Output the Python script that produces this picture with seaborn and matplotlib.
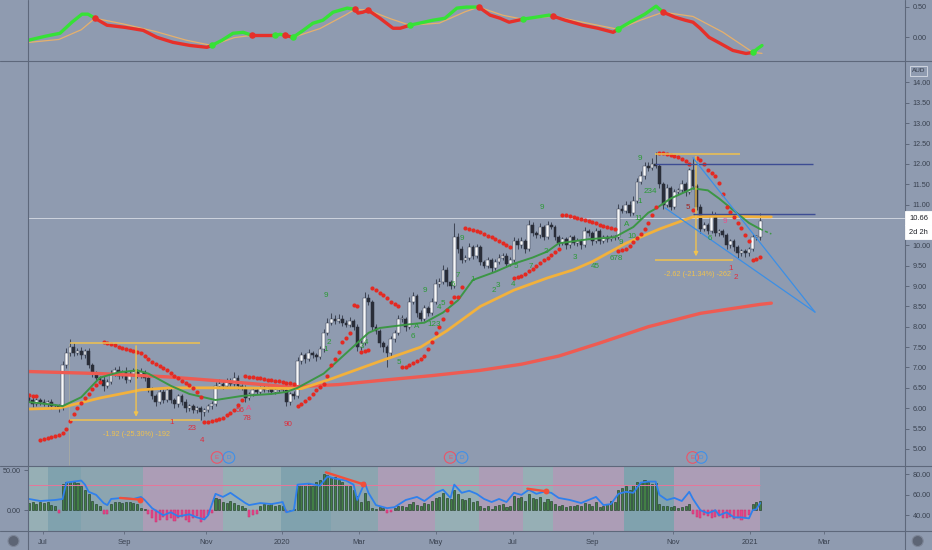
import numpy as np
import pandas as pd
import matplotlib
matplotlib.use("Agg")
import matplotlib.pyplot as plt
import seaborn as sns
from matplotlib.lines import Line2D
from matplotlib.patches import Rectangle, Ellipse

# ---------------- DATA ----------------
first_open = 6.25
closes = [
    6.20, 6.10, 6.20, 6.15, 6.10, 6.15, 6.05, 6.05, 6.00, 7.05,
    7.35, 7.50, 7.35, 7.40, 7.30, 7.40, 7.05, 6.85, 6.75, 6.70,
    6.55, 6.65, 6.85, 6.95, 6.80, 6.90, 6.70, 6.85, 6.90, 6.80,
    6.90, 6.75, 6.45, 6.30, 6.15, 6.40, 6.20, 6.45, 6.20, 6.10,
    6.30, 6.15, 6.00, 6.05, 5.95, 6.00, 5.90, 5.95, 6.05, 6.10,
    6.55, 6.60, 6.55, 6.65, 6.60, 6.75, 6.55, 6.50, 6.25, 6.35,
    6.45, 6.40, 6.50, 6.45, 6.50, 6.40, 6.45, 6.50, 6.45, 6.15,
    6.35, 6.30, 7.15, 7.30, 7.20, 7.35, 7.30, 7.25, 7.45, 7.85,
    8.10, 8.20, 8.15, 8.20, 8.10, 8.05, 8.15, 8.00, 7.50, 7.60,
    8.70, 8.60, 8.00, 7.90, 7.60, 7.50, 7.35, 7.70, 7.85, 8.20,
    8.20, 8.00, 8.60, 8.75, 8.35, 8.20, 8.45, 8.35, 8.60, 9.05,
    9.10, 9.40, 9.10, 9.00, 10.20, 9.90, 9.65, 9.70, 9.95, 9.75,
    9.95, 9.60, 9.50, 9.65, 9.45, 9.60, 9.70, 9.75, 9.55, 9.65,
    10.10, 10.00, 10.10, 9.90, 10.50, 10.30, 10.25, 10.45, 10.20, 10.50,
    10.45, 10.20, 10.05, 10.15, 10.00, 10.20, 10.05, 10.10, 10.00, 10.35,
    10.30, 10.10, 10.35, 10.10, 10.20, 10.15, 10.20, 10.20, 10.90, 10.85,
    11.00, 10.80, 11.10, 11.55, 11.70, 11.95, 11.90, 12.00, 11.95, 11.50,
    11.00, 11.40, 10.95, 11.30, 11.35, 11.50, 11.30, 11.85, 11.45, 10.95,
    10.40, 10.50, 10.35, 10.75, 10.30, 10.35, 10.25, 10.00, 10.10, 9.95,
    9.80, 9.85, 9.80, 9.90, 10.20, 10.20, 10.60,
]
wick_hi = [
    .08, .10, .05, .06, .08, .05, .07, .06, .05, .10,
    .12, .20, .10, .08, .10, .06, .08, .05, .06, .05,
    .08, .06, .10, .06, .08, .05, .10, .06, .08, .06,
    .08, .05, .06, .08, .05, .06, .08, .05, .06, .05,
    .06, .05, .08, .05, .06, .05, .06, .05, .06, .08,
    .10, .12, .08, .10, .08, .15, .06, .05, .06, .05,
    .08, .06, .05, .06, .05, .06, .05, .06, .05, .06,
    .05, .06, .10, .08, .06, .10, .06, .05, .08, .10,
    .12, .15, .10, .12, .08, .06, .10, .05, .06, .08,
    .15, .10, .06, .08, .05, .06, .05, .08, .06, .10,
    .08, .05, .12, .10, .06, .05, .08, .05, .10, .12,
    .10, .12, .08, .06, .35, .10, .08, .06, .10, .06,
    .08, .06, .05, .06, .05, .06, .08, .06, .05, .06,
    .10, .08, .10, .06, .12, .08, .06, .10, .06, .10,
    .08, .06, .05, .06, .05, .06, .05, .08, .05, .10,
    .06, .05, .08, .05, .06, .05, .06, .05, .12, .10,
    .10, .08, .10, .10, .12, .10, .10, .15, .30, .06,
    .06, .10, .06, .08, .06, .10, .06, .06, .30, .06,
    .06, .08, .06, .10, .06, .05, .06, .05, .06, .05,
    .05, .06, .05, .06, .08, .06, .20,
]
wick_lo = [
    .06, .08, .05, .06, .05, .06, .08, .05, .10, .05,
    .06, .08, .06, .05, .08, .06, .06, .08, .06, .08,
    .12, .06, .05, .06, .08, .06, .08, .05, .06, .05,
    .06, .08, .06, .08, .10, .05, .08, .06, .08, .10,
    .06, .08, .10, .06, .08, .06, .20, .08, .05, .06,
    .05, .06, .08, .05, .06, .05, .08, .06, .10, .06,
    .05, .06, .05, .06, .05, .06, .05, .06, .05, .10,
    .06, .08, .05, .06, .08, .05, .06, .08, .05, .06,
    .06, .05, .08, .06, .08, .06, .05, .08, .10, .08,
    .05, .06, .10, .08, .10, .12, .35, .06, .08, .06,
    .08, .10, .06, .05, .10, .06, .05, .08, .06, .05,
    .08, .06, .10, .08, .05, .10, .08, .06, .06, .08,
    .06, .08, .06, .05, .10, .06, .05, .06, .08, .06,
    .05, .08, .06, .10, .05, .06, .08, .06, .08, .05,
    .06, .08, .06, .05, .08, .06, .05, .06, .08, .05,
    .06, .08, .05, .06, .05, .06, .05, .06, .05, .06,
    .06, .08, .05, .06, .05, .06, .08, .05, .06, .08,
    .10, .06, .08, .06, .05, .06, .08, .05, .06, .08,
    .10, .06, .08, .05, .08, .06, .05, .08, .06, .08,
    .10, .06, .08, .06, .05, .06, .08,
]
sar = (
    [6.32, 6.30, 6.29]
    + [5.23, 5.25, 5.27, 5.29, 5.31, 5.35, 5.40, 5.50, 5.68, 5.85, 6.00, 6.12, 6.24, 6.36, 6.47, 6.56, 6.65]
    + [7.62, 7.60, 7.57, 7.54, 7.50, 7.48, 7.46, 7.43, 7.40, 7.38, 7.35, 7.29, 7.21, 7.13, 7.08, 7.03,
       6.98, 6.93, 6.86, 6.80, 6.73, 6.68, 6.62, 6.56, 6.50, 6.39, 6.27]
    + [5.65, 5.67, 5.69, 5.71, 5.74, 5.77, 5.83, 5.89, 5.95, 6.07, 6.20]
    + [6.78, 6.77, 6.76, 6.75, 6.74, 6.72, 6.70, 6.69, 6.68, 6.67, 6.65, 6.63, 6.61, 6.60]
    + [6.05, 6.10, 6.17, 6.25, 6.36, 6.44, 6.52, 6.60, 6.80, 7.05, 7.20, 7.37, 7.62, 7.73, 7.84]
    + [8.53, 8.52]
    + [7.38, 7.40, 7.42]
    + [8.95, 8.90, 8.84, 8.77, 8.70, 8.62, 8.55, 8.50]
    + [7.00, 7.02, 7.06, 7.10, 7.15, 7.20, 7.27, 7.45, 7.62, 7.84, 8.00, 8.20, 8.40, 8.60, 8.72, 8.74, 8.97]
    + [10.42, 10.40, 10.38, 10.35, 10.32, 10.28, 10.24, 10.20, 10.15, 10.10, 10.05, 10.00, 9.95]
    + [9.20, 9.22, 9.25, 9.30, 9.36, 9.43, 9.50, 9.57, 9.63, 9.70, 9.77, 9.84, 9.90]
    + [10.75, 10.74, 10.72, 10.70, 10.68, 10.65, 10.62, 10.60, 10.57, 10.54, 10.51, 10.48, 10.45, 10.42, 10.39]
    + [9.85, 9.88, 9.92, 9.98, 10.08, 10.18, 10.28, 10.40, 10.55, 10.75, 10.95]
    + [12.27, 12.26, 12.24, 12.22, 12.20, 12.17, 12.12, 12.06, 12.00]
    + [10.87]
    + [12.15, 12.10, 12.00, 11.85, 11.78, 11.70, 11.53, 11.25, 10.95, 10.82, 10.70, 10.55, 10.42, 10.25]
    + [10.10]
    + [9.64, 9.66, 9.71]
)

# moving averages (bar index, price)
green_bar = [0, 7, 9, 14, 19, 24, 29, 32, 38, 43, 50, 57, 65, 69, 72, 79, 85, 91, 94, 101,
             106, 111, 115, 119, 125, 130, 135, 139, 142, 150, 157, 162, 166, 168, 172, 178, 182, 185, 189, 193, 196]
green_val = [6.15, 6.08, 6.05, 6.27, 6.75, 6.88, 6.93, 6.85, 6.55, 6.35, 6.2, 6.3, 6.35, 6.4, 6.5, 6.85, 7.35, 7.85, 7.97, 8.05,
             8.1, 8.35, 8.65, 9.15, 9.35, 9.55, 9.7, 9.85, 10.05, 10.15, 10.2, 10.45, 10.8, 10.9, 11.15, 11.4, 11.35, 11.15, 10.85, 10.55, 10.4]
green_ext_bar = [196, 199]
green_ext_val = [10.4, 10.28]
yellow_bar = [0, 8, 19, 30, 38, 55, 73, 81, 94, 105, 112, 121, 130, 139, 146, 151, 160, 169, 178, 187, 196, 199]
yellow_val = [5.98, 6.0, 6.25, 6.45, 6.5, 6.5, 6.48, 6.72, 7.15, 7.5, 7.9, 8.5, 8.9, 9.2, 9.4, 9.6, 10.05, 10.4, 10.7, 10.72, 10.7, 10.7]
red_bar = [0, 19, 37, 54, 70, 83, 94, 108, 121, 132, 142, 153, 166, 180, 196, 199]
red_val = [6.9, 6.85, 6.77, 6.65, 6.52, 6.58, 6.68, 6.8, 6.93, 7.08, 7.28, 7.6, 8.0, 8.33, 8.55, 8.58]

# TD sequential style labels (bar, price, text, colour key)
td_labels = [
    (79.6, 8.78, '9', 'g'), (79.6, 7.45, '1', 'g'), (80.4, 7.62, '2', 'g'),
    (89.3, 7.52, '3', 'g'), (90.3, 7.62, '4', 'g'), (99.2, 7.13, '5', 'g'),
    (103.0, 7.77, '6', 'g'), (104.0, 8.01, 'A', 'g'), (108.6, 8.06, '123', 'g'),
    (110.0, 8.48, '4', 'g'), (111.0, 8.58, '5', 'g'), (106.0, 8.88, '9', 'g'),
    (113.7, 9.05, '6', 'g'), (115.0, 9.25, '7', 'g'), (119.0, 9.15, '1', 'g'),
    (116.0, 10.18, '9', 'g'), (124.7, 8.90, '2', 'g'), (125.7, 9.02, '3', 'g'),
    (129.8, 9.05, '4', 'g'), (130.6, 9.49, '5', 'g'), (134.6, 9.49, '7', 'g'),
    (138.6, 9.86, '2', 'g'), (137.5, 10.92, '9', 'g'), (146.4, 9.69, '3', 'g'),
    (151.7, 9.49, '45', 'g'), (157.4, 9.67, '678', 'g'), (158.6, 10.08, '9', 'g'),
    (161.6, 10.22, '10', 'g'), (160.2, 10.50, 'A', 'g'), (163.4, 10.66, '11', 'g'),
    (163.8, 11.07, '1', 'g'), (166.5, 11.32, '234', 'g'), (163.8, 12.13, '9', 'g'),
    (182.6, 10.18, '6', 'g'), (176.7, 10.92, '5', 'dr'), (186.6, 10.58, '9', 'pk'),
    (188.0, 9.44, '1', 'r'), (189.5, 9.22, '2', 'r'),
    (38.3, 5.65, '1', 'r'), (43.6, 5.49, '23', 'r'), (46.3, 5.21, '4', 'r'),
    (56.6, 5.95, '56', 'r'), (58.8, 6.00, 'A', 'pk'), (58.4, 5.74, '78', 'r'), (69.5, 5.60, '90', 'r'),
]

# measure tools
fib_left = dict(x0=11.0, x1=45.8, xm=28.7, top=7.60, bot=5.70, tx=28.7, ty=5.35, text='-1.92 (-25.30%) -192')
fib_right = dict(x0=167.8, x1=190.6, x1b=188.7, xm=178.8, top=12.25, bot=9.64, tx=179.2, ty=9.28, text='-2.62 (-21.34%) -262')
navy_lines = [(12.00, 167.8, 210.2), (10.77, 178.0, 210.7)]
trend_lines = [((178.0, 12.15), (210.7, 8.36)), ((170.5, 10.92), (210.7, 8.36))]
last_price = 10.66
events = [(50.4, 'E'), (53.6, 'D'), (112.9, 'E'), (116.1, 'D'), (177.9, 'E'), (180.2, 'D')]

# top oscillator
osc_bar = [-0.3, 4.3, 8.3, 11.5, 14.2, 15.8, 17.7, 20.9, 25.7, 30.6, 34.3, 38.6, 43.2, 47.7, 49.0, 51.7, 54.7,
           57.4, 59.8, 62.5, 66.0, 67.3, 68.6, 70.8, 73.5, 76.1, 78.8, 81.5, 85.3, 87.4, 88.2, 89.5, 90.9,
           94.1, 97.6, 99.5, 102.1, 108.3, 111.5, 114.7, 117.2, 120.6, 123.6, 126.3, 128.7, 132.4, 135.9,
           139.4, 140.5, 143.7, 148.5, 152.5, 156.6, 157.9, 161.1, 165.1, 168.1, 170.0, 173.2, 175.9, 178.0,
           179.9, 182.3, 185.3, 188.7, 192.2, 194.1, 195.4, 196.5]
osc_val = [-0.055, 0.012, 0.062, 0.245, 0.378, 0.378, 0.31, 0.195, 0.16, 0.11, -0.005, -0.088, -0.14, -0.17,
           -0.14, -0.055, 0.062, 0.078, 0.028, 0.028, 0.028, 0.045, 0.028, -0.005, 0.11, 0.228, 0.278, 0.41,
           0.478, 0.46, 0.395, 0.41, 0.445, 0.31, 0.145, 0.145, 0.195, 0.278, 0.31, 0.478, 0.495, 0.495,
           0.362, 0.31, 0.245, 0.295, 0.328, 0.362, 0.345, 0.278, 0.195, 0.145, 0.078, 0.128, 0.245, 0.378,
           0.51, 0.41, 0.328, 0.278, 0.245, 0.145, -0.005, -0.105, -0.222, -0.272, -0.255, -0.188, -0.14]
sig_bar = [-0.3, 8, 14, 17.7, 25, 34, 42, 49, 55, 59.8, 66, 68.6, 70.8, 78, 85, 87.4, 90.9, 97, 102.1, 110,
           117, 120.6, 127, 132.4, 140.5, 148, 157.9, 164, 170, 178, 186, 194.1, 196.5]
sig_val = [-0.09, -0.04, 0.12, 0.31, 0.22, 0.09, -0.05, -0.14, -0.01, 0.028, 0.028, 0.028, -0.005, 0.14, 0.37,
           0.46, 0.445, 0.3, 0.195, 0.23, 0.42, 0.495, 0.36, 0.295, 0.345, 0.25, 0.128, 0.28, 0.41, 0.34,
           0.08, -0.255, -0.27]
crosses = [(17.7, 0.31, 'r'), (49.0, -0.14, 'g'), (59.8, 0.028, 'r'), (66.0, 0.028, 'g'), (68.6, 0.028, 'r'),
           (70.8, -0.005, 'g'), (87.4, 0.46, 'r'), (90.9, 0.445, 'r'), (102.1, 0.195, 'g'), (120.6, 0.495, 'r'),
           (132.4, 0.295, 'g'), (140.5, 0.345, 'r'), (157.9, 0.128, 'g'), (170.0, 0.41, 'r'), (194.1, -0.255, 'g')]

# bottom panel
hist = (
    [9, 10, 8, 10, 9, 11, 7, 5] + [-3] + [33, 35, 36, 35, 34, 30] + [25, 20, 12, 8, 6] + [-5, -4]
    + [8, 10, 10, 9, 11, 10, 9, 8] + [3, 2]
    + [-5, -10, -15, -12, -8, -12, -10, -13, -9, -8, -12, -15, -10, -7, -14, -10, -6, -3]
    + [15, 14, 10, 9, 12, 9, 7, 5, 3] + [-8, -6, -5] + [6, 8, 7, 8, 6, 7, 5] + [-2, 1]
    + [2, 30, 33, 32, 34, 30, 35, 38, 45, 44, 40, 42, 38, 35, 32, 30] + [25, 18, 10, 22, 12]
    + [3, 2, 4, 3, -3, -2]
    + [3, 5, 6, 4, 8, 10, 7, 6, 9, 8, 12, 15, 17, 22, 16, 14, 25, 20, 14, 13, 15, 11, 12, 5, 3, 6, 2, 5, 7, 8, 4, 6]
    + [18, 15, 17, 12, 20, 16, 14, 17]
    + [10, 14, 12, 8, 5, 7, 4, 6, 5, 7, 5, 9, 8, 5, 10, 4, 6, 8]
    + [12, 10, 25, 28, 30, 26, 32, 35, 36, 38, 36]
    + [33, 34, 8, 5, 6, 4, 5, 3, 4, 6, 8]
    + [-5, -8, -10, -6, -7, -9, -8, -7, -10, -9, -8, -11, -10, -12, -9, -6]
    + [8, 10, 12]
)
blue_bar = [0, 3, 7, 9, 10, 12, 14, 15, 16, 18, 20, 21, 22, 25, 28, 30, 31, 33, 36, 38,
            40, 43, 45, 47, 48, 50, 52, 54, 56, 58, 59, 62, 65, 68, 69, 71, 72, 75, 78, 80,
            82, 85, 87, 88, 90, 91, 93, 96, 98, 101, 104, 106, 109, 111, 113, 114, 116, 118, 120, 122,
            124, 126, 128, 130, 132, 134, 136, 138, 140, 142, 145, 148, 150, 152, 154, 156, 158, 160, 162, 164,
            166, 168, 169, 171, 173, 175, 177, 178, 180, 182, 184, 185, 187, 189, 191, 193, 194, 195, 196]
blue_val = [56, 54, 55, 56, 72, 73, 74, 70, 63, 60, 52, 50, 56, 57, 56, 58, 55, 47, 40, 43,
            39, 41, 38, 36, 40, 61, 58, 62, 57, 52, 50, 52, 51, 53, 43, 45, 70, 71, 69, 78,
            76, 74, 70, 55, 72, 62, 50, 47, 48, 55, 58, 54, 62, 65, 57, 70, 62, 64, 61, 56,
            53, 56, 53, 62, 60, 65, 61, 63, 62, 57, 55, 52, 55, 58, 50, 51, 61, 63, 62, 72,
            73, 73, 60, 55, 57, 54, 63, 56, 45, 42, 45, 40, 43, 38, 38, 37, 45, 46, 52]
divergences = [((24.4, 57.0), (29.8, 55.3)), ((79.6, 82.0), (89.5, 70.5)), ((133.6, 66.0), (138.6, 63.5))]
bands = [(0, 5.6, 'g'), (5.6, 14.5, 't'), (14.5, 31, 'gt'), (31, 52.5, 'p'), (52.5, 68, 'g'),
         (68, 81.5, 't'), (81.5, 94, 'gt'), (94, 109.4, 'p'), (109.4, 121, 'g'), (121, 133, 'p'),
         (133, 141, 'g'), (141, 160, 'p'), (160, 173.5, 't'), (173.5, 196.5, 'p')]

month_bars = [3.67, 25.55, 47.37, 67.9, 88.47, 109.1, 129.7, 151.1, 172.7, 193.3, 213.2]
month_labels = ['Jul', 'Sep', 'Nov', '2020', 'Mar', 'May', 'Jul', 'Sep', 'Nov', '2021', 'Mar']
main_ticks = [5.0, 5.5, 6.0, 6.5, 7.0, 7.5, 8.0, 8.5, 9.0, 9.5, 10.0, 11.0, 11.5, 12.0, 12.5, 13.0, 13.5, 14.0]

# ---------------- STYLE ----------------
sns.set_theme(style="white")
plt.rcParams['font.family'] = ['Liberation Sans', 'DejaVu Sans']

BG = '#8f9bb0'
BORDER = '#5e687b'
TXT = '#39414f'
W, H = 932, 550
fig = plt.figure(figsize=(W / 100, H / 100), dpi=100)
fig.patch.set_facecolor(BG)


def add_px_axes(x0, y0, x1, y1):
    ax = fig.add_axes([x0 / W, 1 - y1 / H, (x1 - x0) / W, (y1 - y0) / H])
    ax.set_facecolor(BG)
    for s in ax.spines.values():
        s.set_visible(False)
    return ax


XL, XR = 27.7, 904.5
ax_top = add_px_axes(XL, 0, XR, 60.5)
ax_main = add_px_axes(XL, 60.5, XR, 466)
ax_bot = add_px_axes(XL, 466, XR, 531)
XMIN, XMAX = -0.35, 234.7
for ax in (ax_top, ax_main, ax_bot):
    ax.set_xlim(XMIN, XMAX)

# ---------------- MAIN PANEL ----------------
ax_main.set_ylim(4.58, 14.54)
bars = np.arange(len(closes))
c = np.array(closes)
o = np.array([first_open] + closes[:-1])
top_b = np.maximum(o, c)
bot_b = np.minimum(o, c)
hi = top_b + np.array(wick_hi)
lo = bot_b - np.array(wick_lo)
up = c >= o
body = np.maximum(top_b - bot_b, 0.025)

ax_main.axhline(last_price, color='#cdd3de', lw=0.7, zorder=1.2)
ax_main.vlines(bars, lo, hi, color='#404757', lw=0.75, zorder=2)
ax_main.bar(bars[up], body[up], bottom=bot_b[up], width=0.74, color='#f7f8fa',
            edgecolor='#3a4050', linewidth=0.35, zorder=2.5)
ax_main.bar(bars[~up], body[~up], bottom=bot_b[~up], width=0.74, color='#292d38',
            edgecolor='#292d38', linewidth=0.35, zorder=2.5)

sns.lineplot(x=red_bar, y=red_val, ax=ax_main, color='#ee5b52', lw=2.4, zorder=3)
sns.lineplot(x=yellow_bar, y=yellow_val, ax=ax_main, color='#f2b13c', lw=2.0, zorder=3.1)
sns.lineplot(x=green_bar, y=green_val, ax=ax_main, color='#3c9645', lw=1.4, zorder=3.2)
ax_main.plot(green_ext_bar, green_ext_val, color='#3c9645', lw=1.1, ls=(0, (2, 1.5)), zorder=3.2)

sns.scatterplot(x=bars, y=sar, ax=ax_main, color='#e42a22', s=9, linewidth=0, zorder=4, legend=False)

tdc = {'g': '#2b9a35', 'r': '#e02c3c', 'dr': '#a1231f', 'pk': '#e8508a'}
for bx, py, t, k in td_labels:
    ax_main.text(bx, py, t, color=tdc[k], fontsize=5.8, ha='center', va='center', zorder=5)

# measure tools
FIBC = '#f0c24e'
for f in (fib_left, fib_right):
    ax_main.hlines(f['top'], f['x0'], f['x1'], color=FIBC, lw=1.1, zorder=4.5)
    ax_main.hlines(f['bot'], f['x0'], f.get('x1b', f['x1']), color=FIBC, lw=1.1, zorder=4.5)
    ax_main.annotate('', xy=(f['xm'], f['bot'] + 0.02), xytext=(f['xm'], f['top']),
                     arrowprops=dict(arrowstyle='-|>', color=FIBC, lw=1.0, mutation_scale=6), zorder=4.5)
    ax_main.text(f['tx'], f['ty'], f['text'], color=FIBC, fontsize=5.2, ha='center', va='center', zorder=5)
ax_main.vlines(fib_left['x0'] - 0.3, 4.6, fib_left['top'], color='#d9c98a', lw=0.6, alpha=0.35, zorder=1.5)

for yv, x0, x1 in navy_lines:
    ax_main.hlines(yv, x0, x1, color='#3d4c93', lw=1.0, zorder=4.5)
for (xa, ya), (xb, yb) in trend_lines:
    ax_main.plot([xa, xb], [ya, yb], color='#3b8fe6', lw=0.9, zorder=4.6)

ev_col = {'E': '#ec5468', 'D': '#3e90ea'}
for bx, t in events:
    ax_main.scatter([bx], [4.79], s=70, facecolors='none', edgecolors=ev_col[t], linewidths=0.8, zorder=5)
    ax_main.text(bx, 4.79, t, color=ev_col[t], fontsize=4.5, ha='center', va='center', zorder=5)

ax_main.yaxis.tick_right()
ax_main.set_yticks(main_ticks)
ax_main.set_yticklabels([f'{v:.2f}' for v in main_ticks])
ax_main.tick_params(axis='y', which='both', right=True, left=False, length=3, width=0.7, color=BORDER,
                    labelsize=5.2, labelcolor=TXT, pad=3)
ax_main.tick_params(axis='x', bottom=False, labelbottom=False)
ax_main.set_xlabel('')
ax_main.set_ylabel('')

# ---------------- TOP PANEL ----------------
ax_top.set_ylim(-0.388, 0.612)
sns.lineplot(x=sig_bar, y=sig_val, ax=ax_top, color='#e6b06c', lw=0.9, zorder=2)
osc_b = np.array(osc_bar)
osc_v = np.array(osc_val)
bounds = [osc_bar[0]] + [cb for cb, _, _ in crosses] + [osc_bar[-1]]
seg_cols = ['g'] + [cc for _, _, cc in crosses]
OSC = {'g': '#36e236', 'r': '#e6302a'}
for k in range(len(bounds) - 1):
    m = (osc_b >= bounds[k] - 1e-9) & (osc_b <= bounds[k + 1] + 1e-9)
    sns.lineplot(x=osc_b[m], y=osc_v[m], ax=ax_top, color=OSC[seg_cols[k]], lw=2.4, zorder=3)
for cb, cv, cc in crosses:
    ax_top.scatter([cb], [cv], s=22, color=OSC[cc], zorder=4, linewidths=0)
ax_top.yaxis.tick_right()
ax_top.set_yticks([0.0, 0.5])
ax_top.set_yticklabels(['0.00', '0.50'])
ax_top.tick_params(axis='y', right=True, left=False, length=3, width=0.7, color=BORDER,
                   labelsize=5.2, labelcolor=TXT, pad=3)
ax_top.tick_params(axis='x', bottom=False, labelbottom=False)
ax_top.set_xlabel('')
ax_top.set_ylabel('')

# ---------------- BOTTOM PANEL ----------------
band_c = {'g': ('#a6dcc2', 0.32), 't': ('#5fb3aa', 0.30), 'gt': ('#86c0b2', 0.28), 'p': ('#f2a2c4', 0.30)}
for b0, b1, k in bands:
    col, al = band_c[k]
    ax_bot.axvspan(b0 - 0.5, b1 - 0.5, color=col, alpha=al, lw=0, zorder=0.5)
ax_bot.set_ylim(-25.6, 55.4)
h = np.array(hist, dtype=float)
hb = np.arange(len(h))
pos = h >= 0
ax_bot.bar(hb[pos], h[pos], width=0.55, color='#427f45', edgecolor='#1d3622', linewidth=0.4, zorder=2)
ax_bot.bar(hb[~pos], h[~pos], width=0.55, color='#e3468a', edgecolor='#c9306c', linewidth=0.35, zorder=2)
ax_bot.set_yticks([0, 50])
ax_bot.set_yticklabels(['0.00', '50.00'])
ax_bot.tick_params(axis='y', left=True, right=False, length=3, width=0.7, color=BORDER,
                   labelsize=5.2, labelcolor=TXT, pad=2)
ax_bot.set_xticks(month_bars)
ax_bot.set_xticklabels(month_labels)
ax_bot.tick_params(axis='x', bottom=True, length=2, width=0.6, color=BORDER, labelsize=5.4,
                   labelcolor=TXT, pad=4)
ax_bot.set_xlabel('')
ax_bot.set_ylabel('')

ax_b2 = ax_bot.twinx()
for s in ax_b2.spines.values():
    s.set_visible(False)
ax_b2.set_ylim(24.7, 88.2)
ax_b2.hlines(70, 0, 196, color='#e7769a', lw=0.7, zorder=2)
sns.lineplot(x=blue_bar, y=blue_val, ax=ax_b2, color='#2f80ec', lw=1.3, zorder=3)
for (xa, ya), (xb, yb) in divergences:
    ax_b2.plot([xa, xb], [ya, yb], color='#f24f3a', lw=1.7, zorder=4)
    ax_b2.scatter([xb], [yb], s=18, color='#f24f3a', zorder=4, linewidths=0)
ax_b2.set_yticks([40, 60, 80])
ax_b2.set_yticklabels(['40.00', '60.00', '80.00'])
ax_b2.tick_params(axis='y', right=True, length=3, width=0.7, color=BORDER, labelsize=5.2,
                  labelcolor=TXT, pad=3)
ax_b2.set_ylabel('')

# ---------------- FRAME / OVERLAYS ----------------
def fline(x0, y0, x1, y1, col=BORDER, lw=0.8):
    fig.add_artist(Line2D([x0 / W, x1 / W], [1 - y0 / H, 1 - y1 / H], transform=fig.transFigure,
                          color=col, lw=lw, zorder=10))

fline(0, 60.5, W, 60.5)
fline(0, 466, W, 466)
fline(0, 531, W, 531)
fline(XL, 0, XL, H)
fline(XR, 0, XR, H)


def fbox(x0, y0, x1, y1, text, fc='white', ec='white', tc='#1b1e25', fs=5.4):
    fig.add_artist(Rectangle((x0 / W, 1 - y1 / H), (x1 - x0) / W, (y1 - y0) / H, transform=fig.transFigure,
                             facecolor=fc, edgecolor=ec, lw=0.6, zorder=11))
    fig.text((x0 + x1) / 2 / W, 1 - (y0 + y1) / 2 / H, text, ha='center', va='center', fontsize=fs,
             color=tc, zorder=12)

fbox(905, 211.5, 932, 224.5, '10.66')
fbox(905, 225.5, 932, 238.5, '2d 2h')
fbox(910, 65.5, 926.5, 76, 'AUD', fc=BG, ec='#d8dde6', tc='#2f3644', fs=4.6)

for cx in (13.5, 917.7):
    fig.add_artist(Ellipse((cx / W, 1 - 541 / H), 11 / W, 11 / H, transform=fig.transFigure,
                           facecolor='#5d6575', edgecolor='#7d8698', lw=0.8, zorder=11))

fig.savefig('out.png', dpi=100, facecolor=BG)
